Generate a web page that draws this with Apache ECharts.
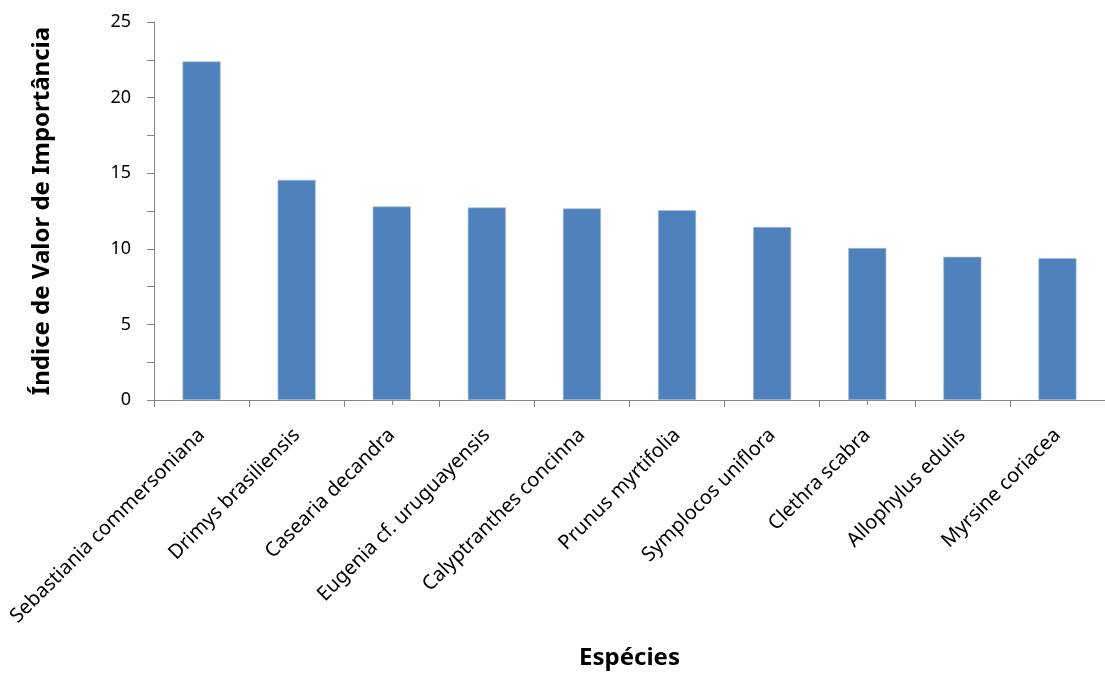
<!DOCTYPE html>
<html>
<head>
<meta charset="utf-8">
<script src="https://cdn.jsdelivr.net/npm/echarts@6/dist/echarts.min.js"></script>
<style>
html,body{margin:0;padding:0;background:#fff;}
#chart{width:1105px;height:677px;}
</style>
</head>
<body>
<div id="chart"></div>
<script>
const categories = [
  "Sebastiania commersoniana",
  "Drimys brasiliensis",
  "Casearia decandra",
  "Eugenia cf. uruguayensis",
  "Calyptranthes concinna",
  "Prunus myrtifolia",
  "Symplocos uniflora",
  "Clethra scabra",
  "Allophylus edulis",
  "Myrsine coriacea"
];
const ivi = [22.39, 14.56, 12.80, 12.73, 12.67, 12.55, 11.44, 10.05, 9.47, 9.38];
const yTicks = [0, 5, 10, 15, 20, 25];
const yTitle = "Índice de Valor de Importância";
const xTitle = "Espécies";

const FONT = "Noto Sans";
const AXIS_COLOR = "#868686";

const chart = echarts.init(document.getElementById('chart'), null, {renderer: 'canvas'});
chart.setOption({
  animation: false,
  backgroundColor: '#ffffff',
  grid: {left: 154, right: 0, top: 22, bottom: 277, containLabel: false},
  xAxis: [{
    type: 'category',
    data: categories,
    boundaryGap: true,
    name: xTitle,
    nameLocation: 'middle',
    nameGap: 246,
    nameTextStyle: {fontFamily: FONT, fontSize: 24, fontWeight: 'bold', color: '#000'},
    axisLine: {show: true, lineStyle: {color: AXIS_COLOR, width: 1}},
    axisTick: {show: true, length: 7, lineStyle: {color: AXIS_COLOR}},
    axisLabel: {rotate: 45, interval: 0, margin: 32, fontFamily: FONT, fontSize: 20, color: '#000'}
  }, {
    type: 'category',
    data: categories.flatMap(c => [c, c]),
    position: 'bottom',
    boundaryGap: true,
    axisLine: {show: false},
    axisTick: {show: true, length: 5, lineStyle: {color: AXIS_COLOR}},
    axisLabel: {show: false},
    splitLine: {show: false}
  }],
  yAxis: {
    type: 'value',
    min: 0,
    max: 25,
    interval: 2.5,
    name: yTitle,
    nameLocation: 'middle',
    nameGap: 100,
    nameTextStyle: {fontFamily: FONT, fontSize: 24, fontWeight: 'bold', color: '#000'},
    axisLine: {show: true, lineStyle: {color: AXIS_COLOR, width: 1}},
    axisTick: {show: true, length: 7, lineStyle: {color: AXIS_COLOR}},
    splitLine: {show: false},
    axisLabel: {
      margin: 23, fontFamily: FONT, fontSize: 18, color: '#000',
      formatter: v => yTicks.includes(v) ? String(v) : ''
    }
  },
  series: [{
    type: 'bar',
    data: ivi,
    xAxisIndex: 0,
    barWidth: '40%',
    itemStyle: {color: '#4F81BD', borderColor: '#A7BFDE', borderWidth: 0.6}
  }]
});
</script>
</body>
</html>
